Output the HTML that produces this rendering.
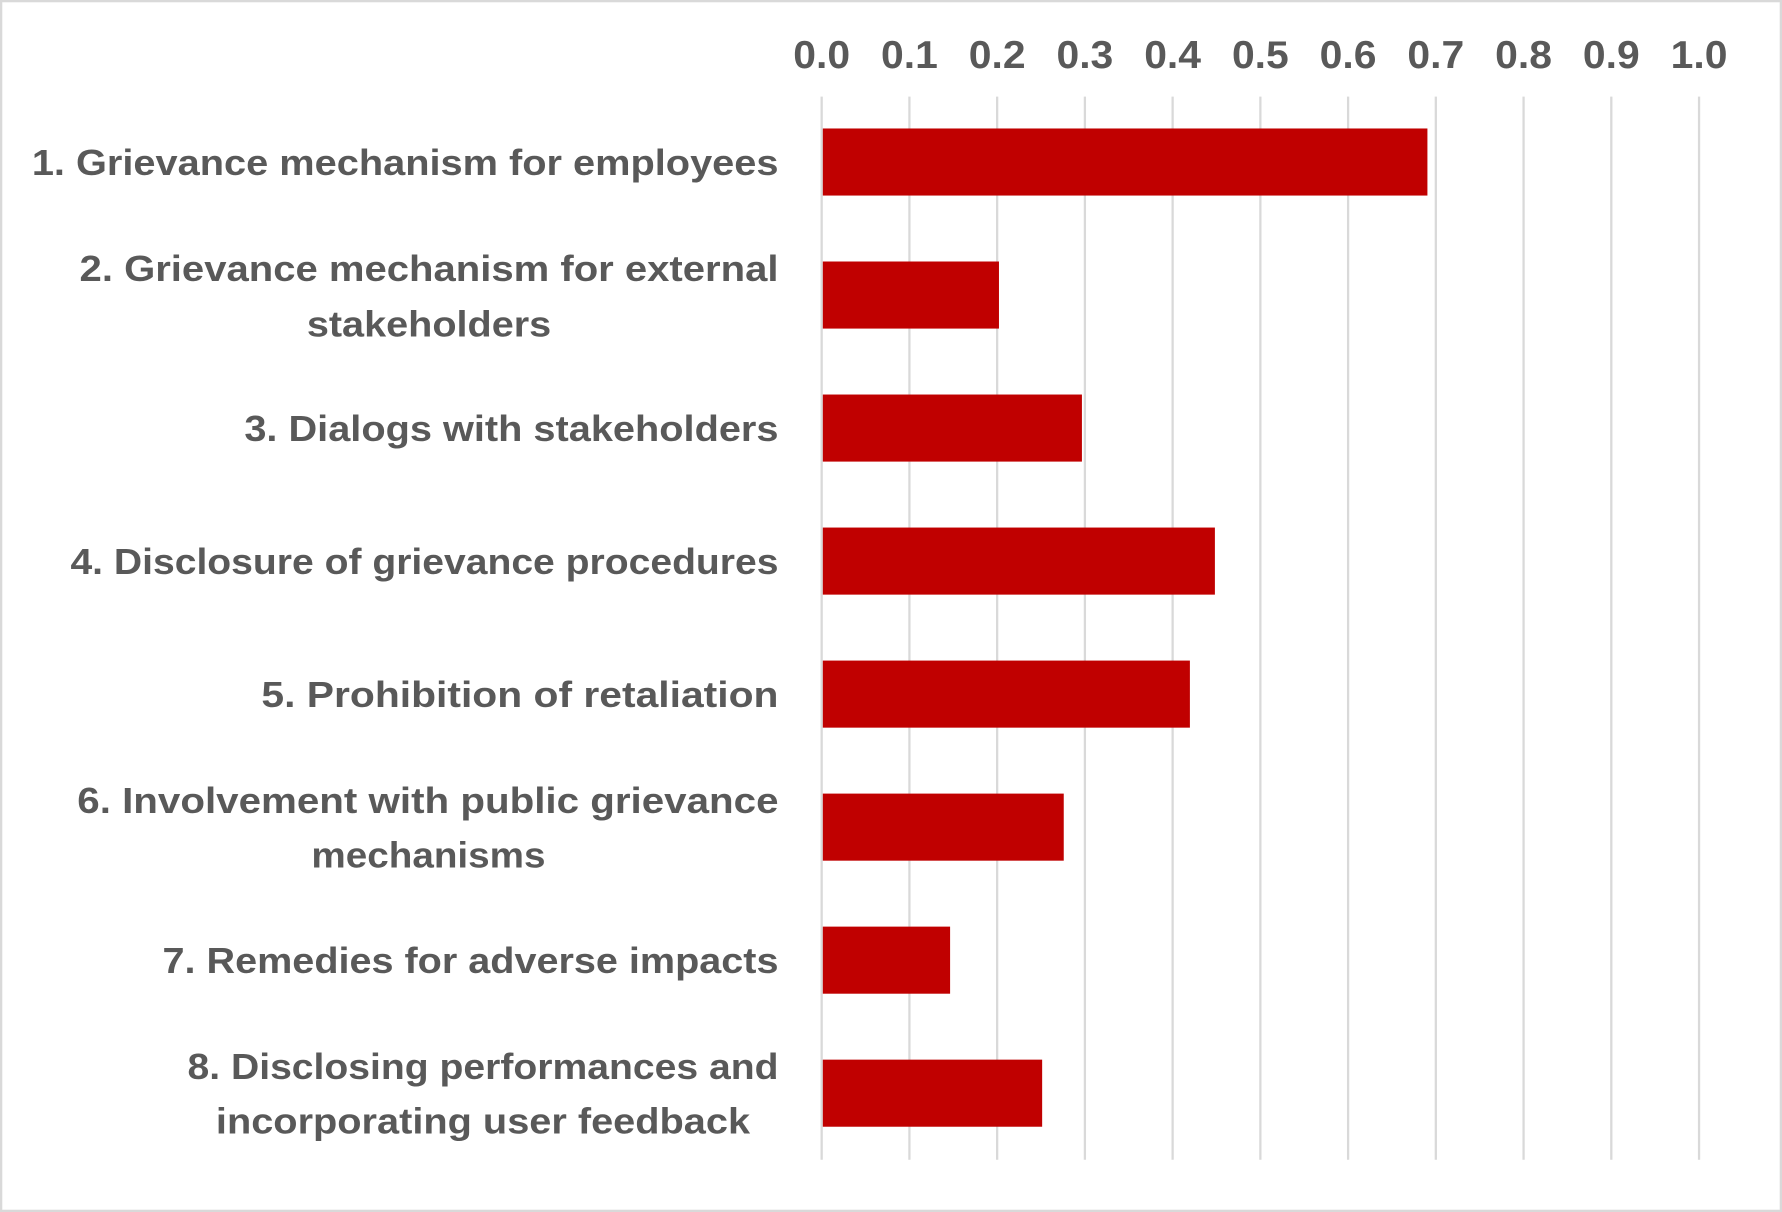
<!DOCTYPE html>
<html><head><meta charset="utf-8"><style>
html,body{margin:0;padding:0;background:#fff;}
svg{display:block;}
</style></head><body>
<svg width="1782" height="1212" viewBox="0 0 1568 1066" preserveAspectRatio="none" xmlns="http://www.w3.org/2000/svg">
<rect x="1" y="1" width="1566" height="1064" fill="#fff" stroke="#d9d9d9" stroke-width="2"/>
<g stroke="#d9d9d9" stroke-width="2">
<line x1="723" y1="85" x2="723" y2="1020"/>
<line x1="800.2" y1="85" x2="800.2" y2="1020"/>
<line x1="877.4" y1="85" x2="877.4" y2="1020"/>
<line x1="954.6" y1="85" x2="954.6" y2="1020"/>
<line x1="1031.8" y1="85" x2="1031.8" y2="1020"/>
<line x1="1109" y1="85" x2="1109" y2="1020"/>
<line x1="1186.2" y1="85" x2="1186.2" y2="1020"/>
<line x1="1263.4" y1="85" x2="1263.4" y2="1020"/>
<line x1="1340.6" y1="85" x2="1340.6" y2="1020"/>
<line x1="1417.8" y1="85" x2="1417.8" y2="1020"/>
<line x1="1495" y1="85" x2="1495" y2="1020"/>
</g>
<g font-family="Liberation Sans, sans-serif" font-weight="bold" font-size="34" fill="#595959" text-anchor="middle">
<text x="723" y="60" textLength="50" lengthAdjust="spacingAndGlyphs">0.0</text>
<text x="800.2" y="60" textLength="50" lengthAdjust="spacingAndGlyphs">0.1</text>
<text x="877.4" y="60" textLength="50" lengthAdjust="spacingAndGlyphs">0.2</text>
<text x="954.6" y="60" textLength="50" lengthAdjust="spacingAndGlyphs">0.3</text>
<text x="1031.8" y="60" textLength="50" lengthAdjust="spacingAndGlyphs">0.4</text>
<text x="1109" y="60" textLength="50" lengthAdjust="spacingAndGlyphs">0.5</text>
<text x="1186.2" y="60" textLength="50" lengthAdjust="spacingAndGlyphs">0.6</text>
<text x="1263.4" y="60" textLength="50" lengthAdjust="spacingAndGlyphs">0.7</text>
<text x="1340.6" y="60" textLength="50" lengthAdjust="spacingAndGlyphs">0.8</text>
<text x="1417.8" y="60" textLength="50" lengthAdjust="spacingAndGlyphs">0.9</text>
<text x="1495" y="60" textLength="50" lengthAdjust="spacingAndGlyphs">1.0</text>
</g>
<g fill="#c00000">
<rect x="724" y="113" width="532" height="59"/>
<rect x="724" y="230" width="155" height="59"/>
<rect x="724" y="347" width="228" height="59"/>
<rect x="724" y="464" width="345" height="59"/>
<rect x="724" y="581" width="323" height="59"/>
<rect x="724" y="698" width="212" height="59"/>
<rect x="724" y="815" width="112" height="59"/>
<rect x="724" y="932" width="193" height="59"/>
</g>
<g font-family="Liberation Sans, sans-serif" font-weight="bold" font-size="32" fill="#595959" lengthAdjust="spacingAndGlyphs">
<text x="28" y="154" textLength="657" lengthAdjust="spacingAndGlyphs">1. Grievance mechanism for employees</text>
<text x="70" y="247" textLength="615" lengthAdjust="spacingAndGlyphs">2. Grievance mechanism for external</text>
<text x="270" y="296" textLength="215" lengthAdjust="spacingAndGlyphs">stakeholders</text>
<text x="215" y="388" textLength="470" lengthAdjust="spacingAndGlyphs">3. Dialogs with stakeholders</text>
<text x="62" y="505" textLength="623" lengthAdjust="spacingAndGlyphs">4. Disclosure of grievance procedures</text>
<text x="230" y="622" textLength="455" lengthAdjust="spacingAndGlyphs">5. Prohibition of retaliation</text>
<text x="68" y="715" textLength="617" lengthAdjust="spacingAndGlyphs">6. Involvement with public grievance</text>
<text x="274" y="763" textLength="206" lengthAdjust="spacingAndGlyphs">mechanisms</text>
<text x="143" y="856" textLength="542" lengthAdjust="spacingAndGlyphs">7. Remedies for adverse impacts</text>
<text x="165" y="949" textLength="520" lengthAdjust="spacingAndGlyphs">8. Disclosing performances and</text>
<text x="190" y="997" textLength="470" lengthAdjust="spacingAndGlyphs">incorporating user feedback</text>
</g>
</svg>
</body></html>
